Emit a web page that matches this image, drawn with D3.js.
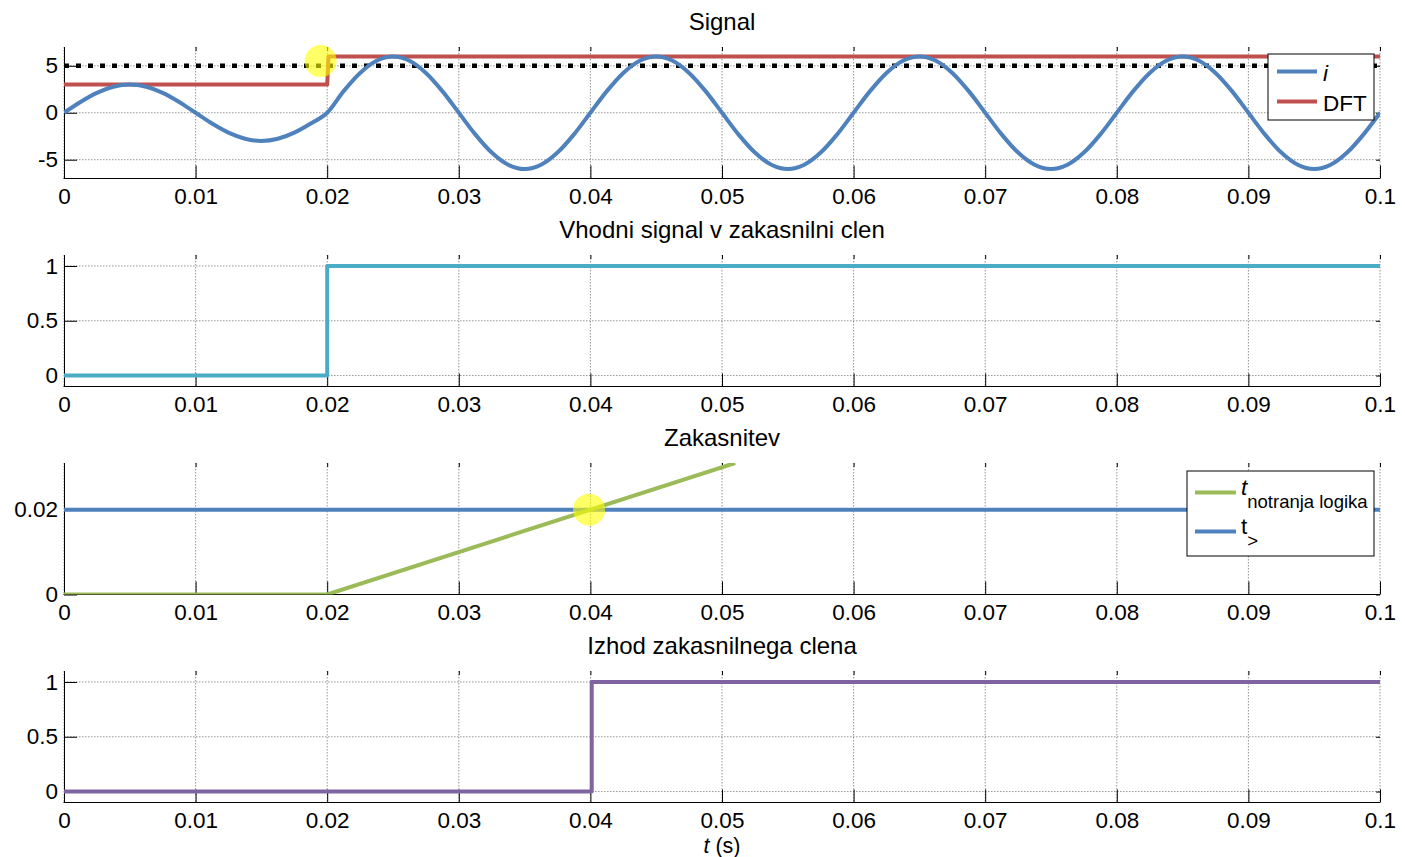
<!DOCTYPE html>
<html>
<head>
<meta charset="utf-8">
<script src="https://cdn.jsdelivr.net/npm/d3@7"></script>
<style>
  html, body { margin: 0; padding: 0; background: #fff; }
  text { font-family: "Liberation Sans", Arial, sans-serif; fill: #000; }
</style>
</head>
<body>
<div id="chart"></div>
<script>
const timeTicks = [0, 0.01, 0.02, 0.03, 0.04, 0.05, 0.06, 0.07, 0.08, 0.09, 0.1]
const titles = ['Signal', 'Vhodni signal v zakasnilni clen', 'Zakasnitev', 'Izhod zakasnilnega clena']

// panel 1: current samples every 1.25 ms
const currentStep = 0.00125
const currentValues = [
  0, 1.15, 2.12, 2.77, 3, 2.77, 2.12, 1.15, 0, -1.15, -2.12, -2.77, -3, -2.77, -2.12, -1.15,
  0, 2.3, 4.24, 5.54, 6, 5.54, 4.24, 2.3, 0, -2.3, -4.24, -5.54, -6, -5.54, -4.24, -2.3,
  0, 2.3, 4.24, 5.54, 6, 5.54, 4.24, 2.3, 0, -2.3, -4.24, -5.54, -6, -5.54, -4.24, -2.3,
  0, 2.3, 4.24, 5.54, 6, 5.54, 4.24, 2.3, 0, -2.3, -4.24, -5.54, -6, -5.54, -4.24, -2.3,
  0, 2.3, 4.24, 5.54, 6, 5.54, 4.24, 2.3, 0, -2.3, -4.24, -5.54, -6, -5.54, -4.24, -2.3,
  0
]
const dftTimes = [0, 0.02, 0.0201, 0.1]
const dftValues = [3, 3, 6, 6]
const thresholdTimes = [0, 0.1]
const thresholdValues = [5, 5]

// panel 2
const inputTimes = [0, 0.02, 0.02, 0.1]
const inputValues = [0, 0, 1, 1]

// panel 3
const logicTimes = [0, 0.02, 0.051]
const logicValues = [0, 0, 0.031]
const setTimes = [0, 0.1]
const setValues = [0.02, 0.02]

// panel 4
const outputTimes = [0, 0.0401, 0.0401, 0.1]
const outputValues = [0, 0, 1, 1]

const yDomains = [[-7, 7], [-0.1, 1.1], [0, 0.031], [-0.1, 1.1]]
const yTicks = [[-5, 0, 5], [0, 0.5, 1], [0, 0.02], [0, 0.5, 1]]

const highlights = [
  { panel: 0, t: 0.0195, v: 5.5 },
  { panel: 2, t: 0.0399, v: 0.02 }
]

const width = 1405, height = 857
const left = 64, right = 1380
const panelTop = 47, panelStep = 208, panelH = 131.5
const fontSize = 22.5
const titleSize = 24

const svg = d3.select('#chart').append('svg')
  .attr('xmlns', 'http://www.w3.org/2000/svg')
  .attr('width', width).attr('height', height)
  .attr('viewBox', `0 0 ${width} ${height}`)

const x = d3.scaleLinear().domain([0, 0.1]).range([left, right])
const fmt = (d) => String(d)

const panels = yDomains.map((dom, i) => {
  const top = panelTop + i * panelStep
  const y = d3.scaleLinear().domain(dom).range([top + panelH, top])
  const g = svg.append('g')

  g.append('clipPath').attr('id', `clip${i}`).append('rect')
    .attr('x', left).attr('y', top).attr('width', right - left).attr('height', panelH)

  // grid
  const grid = g.append('g').attr('stroke', '#7a7a7a').attr('stroke-width', 0.8).attr('stroke-dasharray', '1.5 1.5')
  grid.selectAll('.gx').data(timeTicks).join('line')
    .attr('x1', (d) => x(d)).attr('x2', (d) => x(d)).attr('y1', top).attr('y2', top + panelH)
  grid.selectAll('.gy').data(yTicks[i]).join('line')
    .attr('x1', left).attr('x2', right).attr('y1', (d) => y(d)).attr('y2', (d) => y(d))

  // axes
  const ax = g.append('g').attr('transform', `translate(0,${top + panelH})`)
    .call(d3.axisBottom(x).tickValues(timeTicks).tickFormat(fmt).tickSizeInner(-13).tickSizeOuter(0).tickPadding(9.5))
  const ay = g.append('g').attr('transform', `translate(${left},0)`)
    .call(d3.axisLeft(y).tickValues(yTicks[i]).tickFormat(fmt).tickSizeInner(-13).tickSizeOuter(0).tickPadding(6))
  const at = g.append('g').attr('transform', `translate(0,${top})`)
    .call(d3.axisTop(x).tickValues(timeTicks).tickFormat('').tickSizeInner(-4).tickSizeOuter(0))
  const ar = g.append('g').attr('transform', `translate(${right},0)`)
    .call(d3.axisRight(y).tickValues(yTicks[i]).tickFormat('').tickSizeInner(-4).tickSizeOuter(0))
  at.select('.domain').remove()
  ar.select('.domain').remove()
  for (const a of [ax, ay, at, ar]) {
    a.selectAll('text').attr('font-size', fontSize).attr('font-family', null)
    a.selectAll('line').attr('stroke', '#000')
    a.select('.domain').attr('stroke', '#000')
  }
  ax.select('.domain').attr('d', `M${left - 0.5},0H${right}`)

  g.append('text').attr('x', (left + right) / 2).attr('y', top - 17)
    .attr('text-anchor', 'middle').attr('font-size', titleSize).text(titles[i])

  const plot = g.append('g').attr('clip-path', `url(#clip${i})`)
  return { y, g, plot, top }
})

function drawLine(panel, times, values, color, opts = {}) {
  const p = panels[panel]
  const pts = times.map((t, k) => [t, values[k]])
  const line = d3.line().x((d) => x(d[0])).y((d) => p.y(d[1])).curve(opts.curve || d3.curveLinear)
  p.plot.append('path').datum(pts)
    .attr('fill', 'none').attr('stroke', color).attr('stroke-width', opts.width || 4)
    .attr('stroke-dasharray', opts.dash || null)
    .attr('stroke-linejoin', 'round')
    .attr('d', line)
}

const currentTimes = currentValues.map((_, k) => k * currentStep)

drawLine(0, thresholdTimes, thresholdValues, '#000', { width: 4.5, dash: '5 7' })
drawLine(0, dftTimes, dftValues, '#C0504D')
drawLine(0, currentTimes, currentValues, '#4F81BD', { curve: d3.curveMonotoneX })
drawLine(1, inputTimes, inputValues, '#4BACC6')
drawLine(2, setTimes, setValues, '#4F81BD')
drawLine(2, logicTimes, logicValues, '#9BBB59')
drawLine(3, outputTimes, outputValues, '#8064A2')

for (const h of highlights) {
  const p = panels[h.panel]
  svg.append('circle').attr('cx', x(h.t)).attr('cy', p.y(h.v)).attr('r', 16)
    .attr('fill', '#ffff00').attr('fill-opacity', 0.6)
}

// legend panel 1
const leg1 = svg.append('g').attr('transform', 'translate(1268,54)')
leg1.append('rect').attr('width', 106).attr('height', 66).attr('fill', '#fff').attr('stroke', '#000')
const leg1Items = [{ label: 'i', color: '#4F81BD', italic: true }, { label: 'DFT', color: '#C0504D', italic: false }]
leg1Items.forEach((d, k) => {
  const yy = 17.5 + k * 30
  leg1.append('line').attr('x1', 9).attr('x2', 49).attr('y1', yy).attr('y2', yy).attr('stroke', d.color).attr('stroke-width', 4)
  leg1.append('text').attr('x', 55).attr('y', yy + 9).attr('font-size', fontSize)
    .attr('font-style', d.italic ? 'italic' : null).text(d.label)
})

// legend panel 3
const leg3 = svg.append('g').attr('transform', 'translate(1187,471)')
leg3.append('rect').attr('width', 187).attr('height', 85).attr('fill', '#fff').attr('stroke', '#000')
const leg3Items = [{ sub: 'notranja logika', color: '#9BBB59', italic: true }, { sub: '>', color: '#4F81BD', italic: false }]
leg3Items.forEach((d, k) => {
  const yy = 21.5 + k * 39
  leg3.append('line').attr('x1', 8).attr('x2', 49).attr('y1', yy).attr('y2', yy).attr('stroke', d.color).attr('stroke-width', 4)
  const t = leg3.append('text').attr('x', 54).attr('y', yy + 2).attr('font-size', fontSize)
  t.append('tspan').attr('font-style', d.italic ? 'italic' : null).text('t')
  t.append('tspan').attr('font-size', 18.5).attr('dy', 13).text(d.sub)
})

// x label
const xl = svg.append('text').attr('x', (left + right) / 2).attr('y', 853)
  .attr('text-anchor', 'middle').attr('font-size', 21.5)
xl.append('tspan').attr('font-style', 'italic').text('t')
xl.append('tspan').text(' (s)')
</script>
</body>
</html>
